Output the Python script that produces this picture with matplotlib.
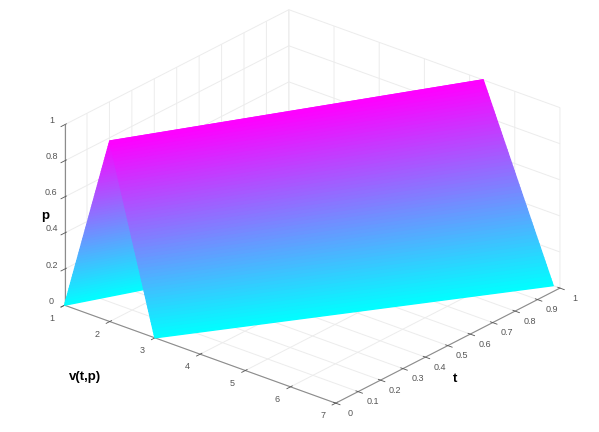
import numpy as np
import matplotlib
matplotlib.use('Agg')
import matplotlib.pyplot as plt

# triangle corners of v at t=0 and t=1 (left foot, peak, right foot)
t_vals = [0, 1]
v_left = [1, 3.8]
v_peak = [2, 5.3]
v_right = [3, 6.85]

v_ticks = [1, 2, 3, 4, 5, 6, 7]
t_ticks = [0, 0.1, 0.2, 0.3, 0.4, 0.5, 0.6, 0.7, 0.8, 0.9, 1]
t_labels = ['0', '0.1', '0.2', '0.3', '0.4', '0.5', '0.6', '0.7', '0.8', '0.9', '1']
p_ticks = [0, 0.2, 0.4, 0.6, 0.8, 1]
p_labels = ['0', '0.2', '0.4', '0.6', '0.8', '1']

plt.rcParams['font.family'] = ['Liberation Sans', 'DejaVu Sans']

fig = plt.figure(figsize=(5.99, 4.32), dpi=100)
ax = fig.add_axes([0.02, -0.0735, 0.98, 1.16], projection='3d', proj_type='ortho')
ax.view_init(elev=25.5, azim=-50)
ax.set_box_aspect((354, 349, 200), zoom=1.0377)

# the surface only has corners, split it along p so the colour runs smoothly
n = 60
side = np.linspace(0, 1, n)
p_mesh = np.concatenate([side, side[::-1][1:]])
V = []
for i in range(len(t_vals)):
    up = v_left[i] + (v_peak[i] - v_left[i]) * side
    down = v_peak[i] + (v_right[i] - v_peak[i]) * side[1:]
    V.append(np.concatenate([up, down]))
V = np.array(V)
T = np.array([[t_vals[0]] * V.shape[1], [t_vals[1]] * V.shape[1]])
P = np.array([p_mesh, p_mesh])

surf = ax.plot_surface(V, T, P, cmap='cool', vmin=0, vmax=1, rstride=1, cstride=1,
                       linewidth=1.0, antialiased=True, shade=False)
surf.set_edgecolor('face')

ax.set_xlim(1, 7, view_margin=0)
ax.set_ylim(0, 1, view_margin=0)
ax.set_zlim(0, 1, view_margin=0)
ax.set_xticks(v_ticks)
ax.set_yticks(t_ticks)
ax.set_yticklabels(t_labels)
ax.set_zticks(p_ticks)
ax.set_zticklabels(p_labels)
ax.tick_params(labelsize=6.5, colors='#555555')
ax.tick_params(axis='x', pad=3)
ax.tick_params(axis='y', pad=2)
ax.tick_params(axis='z', pad=-3)
ax.zaxis.set_ticks_position('lower')

for a in [ax.xaxis, ax.yaxis, ax.zaxis]:
    a.set_pane_color((1, 1, 1, 0))
    a.pane.set_edgecolor('#ececec')
    a.line.set_color('#8c8c8c')
    a.line.set_linewidth(0.8)
    a._axinfo['grid']['color'] = '#ececec'
    a._axinfo['grid']['linewidth'] = 0.7
    a._axinfo['tick']['color'] = '#8c8c8c'
    a._axinfo['tick']['linewidth'] = {True: 0.6, False: 0.6}
    for lab in a.get_ticklabels():
        lab.set_va('bottom')

fig.text(45 / 599, 1 - 216 / 432, 'p', fontsize=9.5, fontweight='bold', ha='center', va='center')
fig.text(85 / 599, 1 - 377 / 432, 'v(t,p)', fontsize=9.5, fontweight='bold', ha='center', va='center')
fig.text(455 / 599, 1 - 379 / 432, 't', fontsize=9.5, fontweight='bold', ha='center', va='center')

fig.savefig('out.png', dpi=100, facecolor='white')
